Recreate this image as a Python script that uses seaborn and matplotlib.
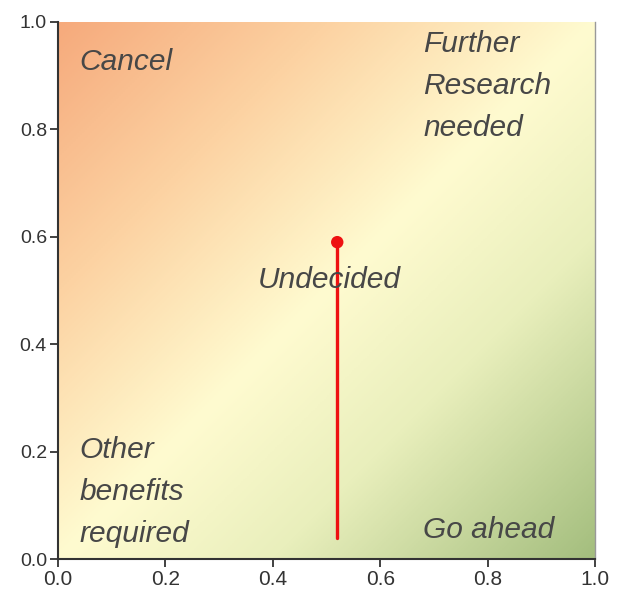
import numpy as np
import pandas as pd
import matplotlib
matplotlib.use('Agg')
import matplotlib.pyplot as plt
from matplotlib.colors import LinearSegmentedColormap
import seaborn as sns

# Dados do gráfico
ponto_x = [0.52]
ponto_y = [0.59]
linha_x = [0.52, 0.52]
linha_y = [0.04, 0.59]
rotulos = ['Cancel', 'Further\nResearch\nneeded', 'Undecided', 'Other\nbenefits\nrequired', 'Go ahead']
rotulos_x = [0.04, 0.68, 0.372, 0.04, 0.68]
rotulos_y = [0.925, 0.881, 0.52, 0.125, 0.054]
ticks = [0.0, 0.2, 0.4, 0.6, 0.8, 1.0]

sns.set_style('white')
plt.rcParams['font.family'] = ['Liberation Sans', 'DejaVu Sans']

fig = plt.figure(figsize=(6.18, 5.98), dpi=100)
ax = fig.add_axes([58 / 618, 1 - 559 / 598, 537 / 618, 537 / 598])

# Fundo em gradiente diagonal
cmap = LinearSegmentedColormap.from_list(
    'fundo', [(0.0, '#F6AA7C'), (0.25, '#FCD2A2'), (0.5, '#FFFBD0'),
              (0.7, '#E9EFBC'), (1.0, '#A4BE7E')])
gx, gy = np.meshgrid(np.linspace(0, 1, 300), np.linspace(0, 1, 300))
diag = (gx - gy + 1) / 2
ax.imshow(diag, cmap=cmap, extent=[0, 1, 0, 1], origin='lower', aspect='auto',
          vmin=0, vmax=1, zorder=0)

df_linha = pd.DataFrame({'x': linha_x, 'y': linha_y})
sns.lineplot(data=df_linha, x='x', y='y', color='#EE1111', linewidth=2.4,
             sort=False, estimator=None, errorbar=None, ax=ax, zorder=3)
df_ponto = pd.DataFrame({'x': ponto_x, 'y': ponto_y})
sns.scatterplot(data=df_ponto, x='x', y='y', color='#EE1111', s=80,
                edgecolor='none', ax=ax, zorder=4)

for txt, tx, ty in zip(rotulos, rotulos_x, rotulos_y):
    ax.text(tx, ty, txt, fontsize=21.5, style='italic', color='#474747',
            ha='left', va='center', linespacing=1.63, zorder=5)

ax.set_xlim(0, 1)
ax.set_ylim(0, 1)
ax.set_xticks(ticks)
ax.set_yticks(ticks)
ax.set_xticklabels([f'{t:.1f}' for t in ticks], fontsize=15, color='#333333')
ax.set_yticklabels([f'{t:.1f}' for t in ticks], fontsize=14, color='#333333')
ax.set_xlabel('')
ax.set_ylabel('')
ax.tick_params(axis='both', direction='out', length=6, width=1.3, color='#333333',
               bottom=True, left=True, pad=2)

for lado in ['left', 'bottom']:
    ax.spines[lado].set_color('#333333')
    ax.spines[lado].set_linewidth(1.5)
ax.spines['top'].set_visible(False)
ax.spines['right'].set_color('#999999')
ax.spines['right'].set_linewidth(1)

plt.savefig('out.png', dpi=100)
